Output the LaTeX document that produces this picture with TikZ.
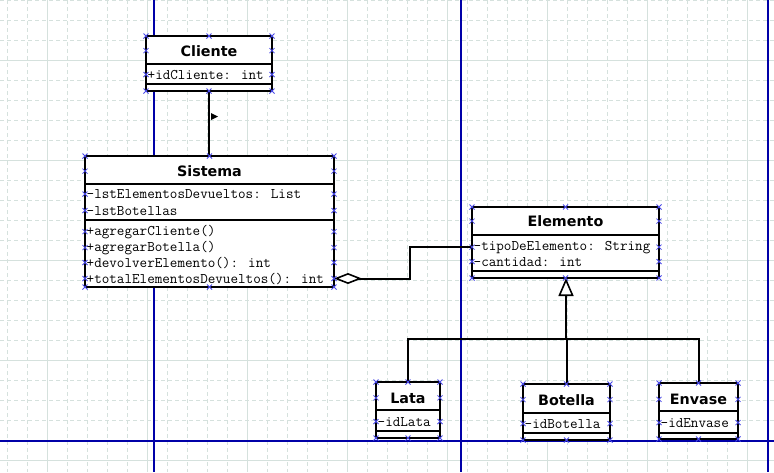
\documentclass[tikz,border=0pt]{standalone}
\usepackage{fontspec}
\newfontfamily\titlef{DejaVu Sans}
\usetikzlibrary{arrows.meta}
\definecolor{gridc}{HTML}{D5E1DD}
\definecolor{navy}{HTML}{0000A8}
\definecolor{handleblue}{HTML}{4848E8}
\newcommand\boxhandles[1]{\path (#1.north west) pic{hx} (#1.north) pic{hx} (#1.north east) pic{hx}
  (#1.south west) pic{hx} (#1.south) pic{hx} (#1.south east) pic{hx};}
\newcommand\rowhandles[2]{\path (#1.west |- #2) pic{hx} (#1.east |- #2) pic{hx};}
\newcommand\divline[2]{\draw[divider] (#1.west |- 0,#2) -- (#1.east |- 0,#2);}
\begin{document}
\begin{tikzpicture}[x=1pt,y=-1pt,
  minorgrid/.style={gridc, line width=1pt, dash pattern=on 4pt off 3pt},
  majorgrid/.style={gridc, line width=1pt},
  guide/.style={navy, line width=1.4pt},
  umlbox/.style={draw=black, fill=white, line width=2pt, inner sep=0pt, outer sep=0pt, anchor=north west},
  divider/.style={line width=2pt},
  title/.style={font=\titlef\bfseries\fontsize{14.3}{16}\selectfont, inner sep=0pt, anchor=base},
  member/.style={font=\ttfamily\addfontfeatures{FakeBold=0.4}\fontsize{14.7}{16}\selectfont, anchor=base west, inner sep=0pt},
  conn/.style={line width=2pt},
  handle/.style={handleblue, line width=0.8pt},
  hx/.pic={\draw[handle] (-2.5,-2.5) -- (2.5,2.5) (-2.5,2.5) -- (2.5,-2.5);}
]
\useasboundingbox (0,0) rectangle (774,472);
\fill[white] (0,0) rectangle (774,472);
% grid
\foreach \x in {7,27,...,767} \draw[minorgrid] (\x,0) -- (\x,472);
\foreach \y in {0,20,...,460} \draw[minorgrid] (0,\y) -- (774,\y);
\foreach \x in {47,147,...,747} \draw[majorgrid] (\x,0) -- (\x,472);
\foreach \y in {60,160,...,460} \draw[majorgrid] (0,\y) -- (774,\y);
% guide lines
\draw[guide] (154,0) -- (154,472);
\draw[guide] (461,0) -- (461,472);
\draw[guide] (768,0) -- (768,472);
\draw[guide] (0,441) -- (774,441);

% Cliente
\node[umlbox, minimum width=126pt, minimum height=55pt] (cliente) at (146,36) {};
\divline{cliente}{64} \divline{cliente}{84}
\node[title] (cliente-t) at (209,56) {Cliente};
\node[member] (cliente-a1) at (147.5,79) {+idCliente: int};

% Sistema
\node[umlbox, minimum width=249pt, minimum height=131pt] (sistema) at (85,156) {};
\divline{sistema}{184} \divline{sistema}{220}
\node[title] (sistema-t) at (209.5,176.5) {Sistema};
\node[member] (sistema-a1) at (86.5,198.5) {-lstElementosDevueltos: List};
\node[member] (sistema-a2) at (86.5,215) {-lstBotellas};
\node[member] (sistema-m1) at (86.5,235) {+agregarCliente()};
\node[member] (sistema-m2) at (86.5,251) {+agregarBotella()};
\node[member] (sistema-m3) at (86.5,267) {+devolverElemento(): int};
\node[member] (sistema-m4) at (86.5,283) {+totalElementosDevueltos(): int};

% Elemento
\node[umlbox, minimum width=187pt, minimum height=71pt] (elemento) at (472,207) {};
\divline{elemento}{235} \divline{elemento}{271}
\node[title] (elemento-t) at (565.5,226.5) {Elemento};
\node[member] (elemento-a1) at (473.5,250) {-tipoDeElemento: String};
\node[member] (elemento-a2) at (473.5,266) {-cantidad: int};

% Lata
\node[umlbox, minimum width=64pt, minimum height=56pt] (lata) at (376,382) {};
\divline{lata}{410} \divline{lata}{431}
\node[title] (lata-t) at (408,403) {Lata};
\node[member] (lata-a1) at (377.5,426) {-idLata};

% Botella
\node[umlbox, minimum width=87pt, minimum height=56pt] (botella) at (523,384) {};
\divline{botella}{413} \divline{botella}{433}
\node[title] (botella-t) at (566.5,405) {Botella};
\node[member] (botella-a1) at (524.5,428) {-idBotella};

% Envase
\node[umlbox, minimum width=79pt, minimum height=56pt] (envase) at (659,383) {};
\divline{envase}{411} \divline{envase}{433}
\node[title] (envase-t) at (698.5,404.5) {Envase};
\node[member] (envase-a1) at (660.5,427) {-idEnvase};

% association Cliente - Sistema
\draw[conn] (cliente.south) -- (cliente.south |- sistema.north);
\fill[shift={(211,113)}] (0,0) -- (7,3.5) -- (0,7) -- cycle;

% aggregation Sistema - Elemento
\coordinate (bend) at (410,260);
\draw[conn, {Diamond[length=28pt,width=11pt,fill=white,line width=1.6pt]}-]
  (sistema.east |- sistema-m4) -| (bend |- elemento-a1) -- (elemento.west |- elemento-a1);

% generalization
\coordinate (hub) at (566,339);
\draw[conn, -{Triangle[length=18pt,width=15pt,fill=white,line width=1.6pt]}] (hub) -- (hub |- elemento.south);
\draw[conn] (lata.north) |- (hub) -| (envase.north);
\draw[conn] (botella.north) -- (botella.north |- hub);

% selection handles
\foreach \b in {cliente,sistema,elemento,lata,botella,envase} {\boxhandles{\b}}
\foreach \r in {cliente-t,cliente-a1} {\rowhandles{cliente}{\r}}
\foreach \r in {sistema-t,sistema-a1,sistema-a2,sistema-m1,sistema-m2,sistema-m3,sistema-m4} {\rowhandles{sistema}{\r}}
\foreach \r in {elemento-t,elemento-a1,elemento-a2} {\rowhandles{elemento}{\r}}
\foreach \r in {lata-t,lata-a1} {\rowhandles{lata}{\r}}
\foreach \r in {botella-t,botella-a1} {\rowhandles{botella}{\r}}
\foreach \r in {envase-t,envase-a1} {\rowhandles{envase}{\r}}
\end{tikzpicture}
\end{document}
